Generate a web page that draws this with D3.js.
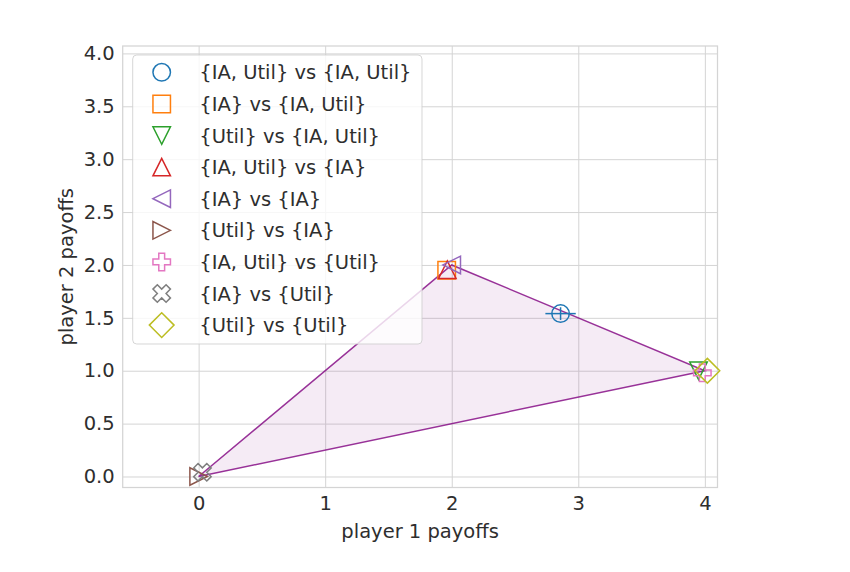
<!DOCTYPE html>
<html>
<head>
<meta charset="utf-8">
<script src="https://cdn.jsdelivr.net/npm/d3@7"></script>
<style>
  html, body { margin: 0; padding: 0; background: #fff; }
  svg { display: block; }
  text { font-family: "DejaVu Sans", sans-serif; }
</style>
</head>
<body>
<svg id="chart" width="850" height="572"></svg>
<script>
// ---- data ----
const seriesLabels = [
  "{IA, Util} vs {IA, Util}",
  "{IA} vs {IA, Util}",
  "{Util} vs {IA, Util}",
  "{IA, Util} vs {IA}",
  "{IA} vs {IA}",
  "{Util} vs {IA}",
  "{IA, Util} vs {Util}",
  "{IA} vs {Util}",
  "{Util} vs {Util}"
];
const player1 = [2.86, 1.96, 3.95, 1.965, 2.00, 0.00, 3.98, 0.03, 4.02];
const player2 = [1.54, 1.95, 1.00, 1.955, 2.00, 0.00, 0.98, 0.04, 1.00];
const player1Err = [0.12, 0, 0, 0, 0, 0, 0, 0, 0];
const player2Err = [0.06, 0, 0, 0, 0, 0, 0, 0, 0];
const seriesColors = ["#1f77b4", "#ff7f0e", "#2ca02c", "#d62728", "#9467bd",
                      "#8c564b", "#e377c2", "#7f7f7f", "#bcbd22"];
const seriesMarkers = ["o", "s", "v", "^", "<", ">", "P", "X", "D"];
const hullX = [0, 2, 4, 0];
const hullY = [0, 2, 1, 0];
const xTicks = [0, 1, 2, 3, 4];
const yTicks = [0, 0.5, 1, 1.5, 2, 2.5, 3, 3.5, 4];
const xTitle = "player 1 payoffs";
const yTitle = "player 2 payoffs";

// ---- layout ----
const W = 850, H = 572;
const L = 122.7, R = 717.5, T = 46, B = 487.5;
const FS = 19.5;
const textColor = "#2e2e2e";
const gridColor = "#d4d4d4";

const x = d3.scaleLinear().domain([-0.6, 4.1]).range([L, R]);
const y = d3.scaleLinear().domain([-0.104, 4.07]).range([B, T]);

const svg = d3.select("#chart");

// grid
const grid = svg.append("g");
grid.append("g").attr("transform", `translate(0,${B})`)
  .call(d3.axisBottom(x).tickValues(xTicks).tickSize(-(B - T)).tickFormat(""))
  .call(g => g.select(".domain").remove())
  .call(g => g.selectAll("line").attr("stroke", gridColor).attr("stroke-width", 1));
grid.append("g").attr("transform", `translate(${L},0)`)
  .call(d3.axisLeft(y).tickValues(yTicks).tickSize(-(R - L)).tickFormat(""))
  .call(g => g.select(".domain").remove())
  .call(g => g.selectAll("line").attr("stroke", gridColor).attr("stroke-width", 1));

// frame
svg.append("rect").attr("x", L).attr("y", T).attr("width", R - L).attr("height", B - T)
  .attr("fill", "none").attr("stroke", gridColor).attr("stroke-width", 1.25);

// tick labels
svg.append("g").attr("transform", `translate(0,${B})`)
  .call(d3.axisBottom(x).tickValues(xTicks).tickSize(0).tickPadding(9).tickFormat(d3.format("d")))
  .call(g => g.select(".domain").remove())
  .call(g => g.selectAll("text").attr("font-size", FS).attr("fill", textColor)
    .attr("font-family", "DejaVu Sans"));
svg.append("g").attr("transform", `translate(${L},0)`)
  .call(d3.axisLeft(y).tickValues(yTicks).tickSize(0).tickPadding(8).tickFormat(d3.format(".1f")))
  .call(g => g.select(".domain").remove())
  .call(g => g.selectAll("text").attr("font-size", FS).attr("fill", textColor)
    .attr("font-family", "DejaVu Sans"));

// axis titles
svg.append("text").attr("x", (L + R) / 2).attr("y", 538)
  .attr("text-anchor", "middle").attr("font-size", FS).attr("fill", textColor).text(xTitle);
svg.append("text").attr("transform", `translate(73,${(T + B) / 2}) rotate(-90)`)
  .attr("text-anchor", "middle").attr("font-size", FS).attr("fill", textColor).text(yTitle);

// hull polygon
const hullPts = hullX.map((d, i) => [x(d), y(hullY[i])]);
svg.append("path").attr("d", d3.line()(hullPts) + "Z")
  .attr("fill", "purple").attr("fill-opacity", 0.08)
  .attr("stroke", "purple").attr("stroke-opacity", 0.8).attr("stroke-width", 1.5);

// markers
const S = 17.5;
function markerPath(m, s) {
  const h = s / 2;
  const poly = pts => "M" + pts.map(p => p[0].toFixed(2) + "," + p[1].toFixed(2)).join("L") + "Z";
  switch (m) {
    case "o": return `M${h},0A${h},${h} 0 1,1 ${-h},0A${h},${h} 0 1,1 ${h},0Z`;
    case "s": return poly([[-h, -h], [h, -h], [h, h], [-h, h]]);
    case "^": return poly([[0, -h], [-h, h], [h, h]]);
    case "v": return poly([[0, h], [-h, -h], [h, -h]]);
    case "<": return poly([[-h, 0], [h, -h], [h, h]]);
    case ">": return poly([[h, 0], [-h, -h], [-h, h]]);
    case "P": {
      const v = [[-1, -3], [1, -3], [1, -1], [3, -1], [3, 1], [1, 1], [1, 3], [-1, 3], [-1, 1], [-3, 1], [-3, -1], [-1, -1]];
      return poly(v.map(p => [p[0] / 6 * s, p[1] / 6 * s]));
    }
    case "X": {
      const v = [[-1, -2], [0, -1], [1, -2], [2, -1], [1, 0], [2, 1], [1, 2], [0, 1], [-1, 2], [-2, 1], [-1, 0], [-2, -1]];
      return poly(v.map(p => [p[0] / 4 * s, p[1] / 4 * s]));
    }
    case "D": {
      const d = s * Math.SQRT1_2;
      return poly([[0, -d], [d, 0], [0, d], [-d, 0]]);
    }
  }
}

const pts = svg.append("g");
seriesLabels.forEach((lab, i) => {
  const g = pts.append("g").attr("stroke", seriesColors[i]).attr("fill", "none");
  const cx = x(player1[i]), cy = y(player2[i]);
  if (player1Err[i] > 0) {
    g.append("line").attr("x1", x(player1[i] - player1Err[i])).attr("x2", x(player1[i] + player1Err[i]))
      .attr("y1", cy).attr("y2", cy).attr("stroke-width", 1.5);
  }
  if (player2Err[i] > 0) {
    g.append("line").attr("y1", y(player2[i] - player2Err[i])).attr("y2", y(player2[i] + player2Err[i]))
      .attr("x1", cx).attr("x2", cx).attr("stroke-width", 1.5);
  }
  g.append("path").attr("d", markerPath(seriesMarkers[i], S))
    .attr("transform", `translate(${cx},${cy})`).attr("stroke-width", 1.5);
});

// legend
const lg = svg.append("g");
lg.append("rect").attr("x", 132.7).attr("y", 55).attr("width", 289.3).attr("height", 289)
  .attr("rx", 4).attr("fill", "#fff").attr("fill-opacity", 0.8)
  .attr("stroke", "#cccccc").attr("stroke-opacity", 0.8).attr("stroke-width", 1);
const rowY0 = 72.3, rowStep = 31.6;
seriesLabels.forEach((lab, i) => {
  const ry = rowY0 + i * rowStep;
  lg.append("path").attr("d", markerPath(seriesMarkers[i], S))
    .attr("transform", `translate(161.7,${ry})`)
    .attr("fill", "none").attr("stroke", seriesColors[i]).attr("stroke-width", 1.5);
  lg.append("text").attr("x", 199.3).attr("y", ry).attr("dy", "0.36em")
    .attr("font-size", FS).attr("fill", textColor).text(lab);
});
</script>
</body>
</html>
